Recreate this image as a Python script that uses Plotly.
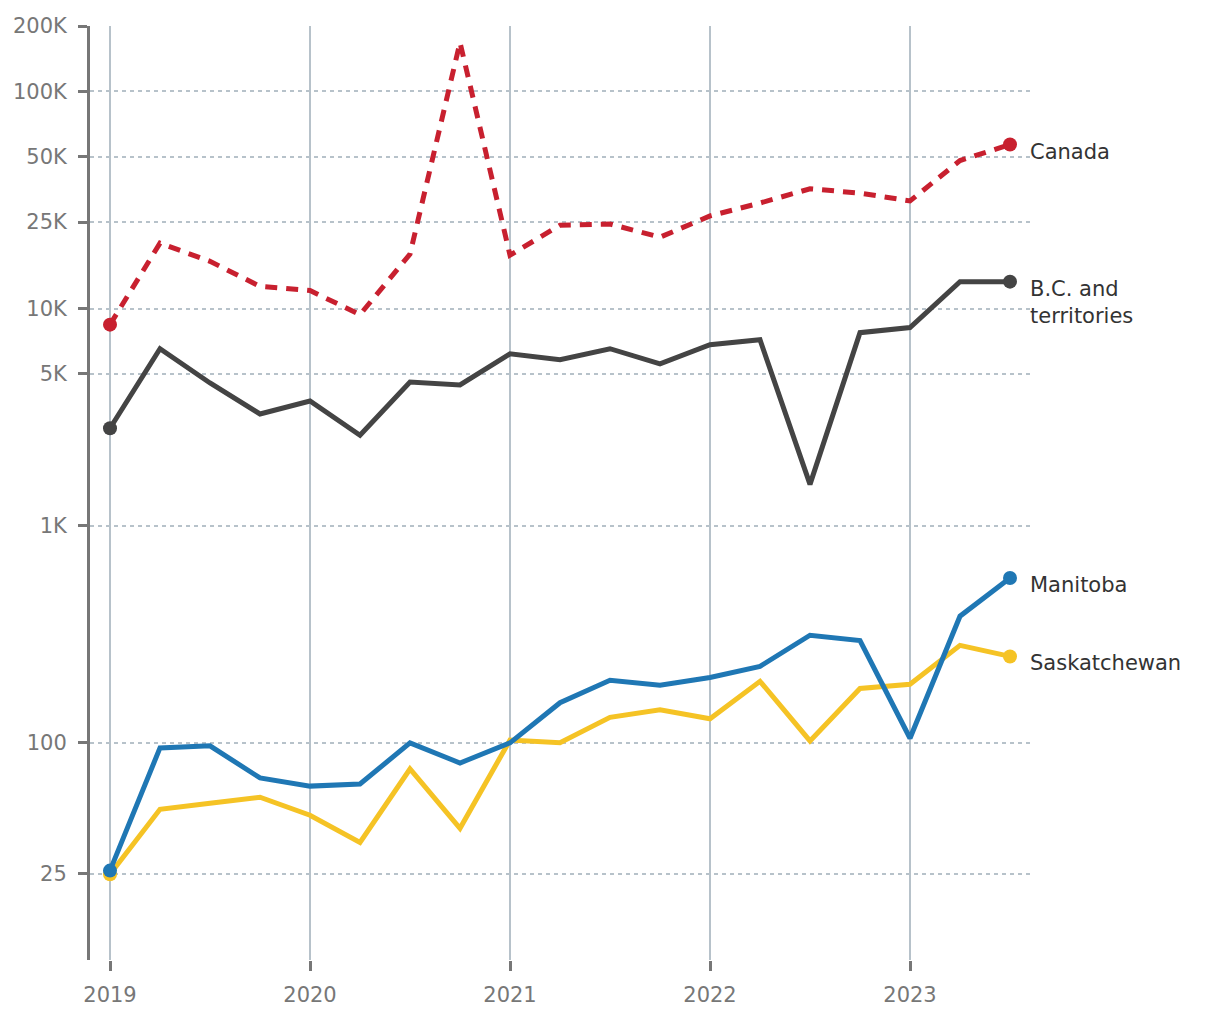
import math
import plotly.graph_objects as go

quarters = [2019.0, 2019.25, 2019.5, 2019.75, 2020.0, 2020.25, 2020.5, 2020.75,
            2021.0, 2021.25, 2021.5, 2021.75, 2022.0, 2022.25, 2022.5, 2022.75,
            2023.0, 2023.25, 2023.5]

canada = [8430, 20000, 16500, 12650, 12100, 9380, 17800, 168000, 17600, 24200,
          24500, 21300, 26700, 30600, 35600, 34000, 31300, 48000, 56900]
bc_territories = [2810, 6530, 4540, 3270, 3750, 2610, 4590, 4450, 6190, 5810,
                  6530, 5560, 6810, 7180, 1550, 7740, 8170, 13300, 13300]
manitoba = [25.8, 94.8, 96.9, 68.9, 63.2, 64.6, 100, 80.8, 100, 153,
            194, 184, 200, 225, 313, 296, 105, 383, 574]
saskatchewan = [24.8, 49.4, 52.7, 56.2, 46.4, 34.8, 75.8, 40.4, 103, 100,
                131, 142, 129, 192, 102, 178, 186, 281, 250]

series_names = ["Canada", "B.C. and<br>territories", "Manitoba", "Saskatchewan"]
series_values = [canada, bc_territories, manitoba, saskatchewan]
series_colors = ["#c8202f", "#444444", "#1f77b4", "#f5c325"]
series_dash = ["12px,9px", "solid", "solid", "solid"]
label_yshift = [-7, -21, -7, -7]

y_tickvals = [25, 100, 1000, 5000, 10000, 25000, 50000, 100000, 200000]
y_ticktext = ["25", "100", "1K", "5K", "10K", "25K", "50K", "100K", "200K"]
x_tickvals = [2019, 2020, 2021, 2022, 2023]
x_ticktext = ["2019", "2020", "2021", "2022", "2023"]

FONT = "DejaVu Sans"

fig = go.Figure()

order = [3, 2, 1, 0]
for i in order:
    vals = series_values[i]
    col = series_colors[i]
    fig.add_trace(go.Scatter(
        x=quarters, y=vals, mode="lines",
        line=dict(color=col, width=5, dash=series_dash[i]),
        hoverinfo="skip", showlegend=False))
    fig.add_trace(go.Scatter(
        x=[quarters[0], quarters[-1]], y=[vals[0], vals[-1]], mode="markers",
        marker=dict(color=col, size=14), hoverinfo="skip", showlegend=False))

for name, vals, ys in zip(series_names, series_values, label_yshift):
    fig.add_annotation(
        x=quarters[-1], y=math.log10(vals[-1]), yref="y", xref="x",
        text=name, showarrow=False, xanchor="left", yanchor="middle",
        xshift=18, yshift=ys, align="left",
        font=dict(family=FONT, size=21, color="#333333"))

grid_col = "#b7c2ca"
fig.update_layout(
    width=1204, height=1004,
    margin=dict(l=82, r=182, t=18, b=52),
    plot_bgcolor="white", paper_bgcolor="white",
    font=dict(family=FONT, size=21, color="#777777"),
    xaxis=dict(
        range=[2018.9, 2023.6], automargin=False,
        tickvals=x_tickvals, ticktext=x_ticktext,
        showgrid=True, gridcolor=grid_col, gridwidth=1.5,
        showline=False, zeroline=False,
        ticks="outside", ticklen=10, tickwidth=3, tickcolor="#777777",
        ticklabelstandoff=6,
        tickfont=dict(family=FONT, size=21, color="#777777"),
    ),
    yaxis=dict(
        type="log", range=[1, 5.30103], automargin=False,
        tickvals=y_tickvals, ticktext=y_ticktext,
        showgrid=True, gridcolor=grid_col, gridwidth=1.5, griddash="4px,4px",
        showline=True, linecolor="#777777", linewidth=3,
        ticks="outside", ticklen=9, tickwidth=3, tickcolor="#777777",
        ticklabelstandoff=7,
        tickfont=dict(family=FONT, size=21, color="#777777"),
        zeroline=False,
    ),
)

fig.write_html("out.html")
